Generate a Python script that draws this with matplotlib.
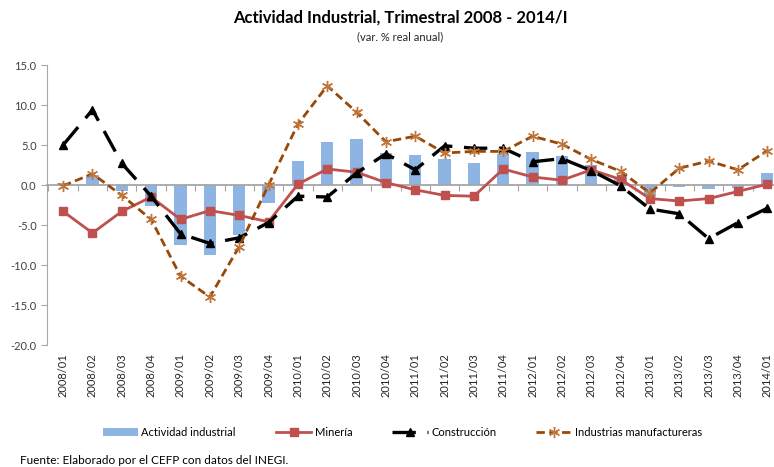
import matplotlib
matplotlib.use("Agg")
import matplotlib.pyplot as plt
import numpy as np

plt.rcParams['font.family'] = ['Lato', 'DejaVu Sans']

periodos = ['2008/01', '2008/02', '2008/03', '2008/04',
            '2009/01', '2009/02', '2009/03', '2009/04',
            '2010/01', '2010/02', '2010/03', '2010/04',
            '2011/01', '2011/02', '2011/03', '2011/04',
            '2012/01', '2012/02', '2012/03', '2012/04',
            '2013/01', '2013/02', '2013/03', '2013/04',
            '2014/01']

actividad = [0.2, 1.3, -0.7, -2.6, -7.5, -8.8, -6.3, -2.3,
             3.0, 5.4, 5.7, 4.0, 3.8, 3.3, 2.8, 3.9,
             4.1, 3.6, 2.5, 1.0, -1.2, -0.3, -0.5, -0.4, 1.5]

mineria = [-3.3, -6.0, -3.3, -1.5, -4.3, -3.2, -3.8, -4.6,
           0.1, 2.0, 1.6, 0.3, -0.6, -1.3, -1.4, 2.0,
           1.0, 0.6, 1.9, 0.7, -1.7, -2.0, -1.7, -0.8, 0.1]

construccion = [5.0, 9.4, 2.7, -1.4, -6.1, -7.3, -6.6, -4.7,
                -1.4, -1.5, 1.5, 3.9, 1.9, 4.9, 4.6, 4.6,
                2.9, 3.3, 1.8, -0.1, -3.0, -3.6, -6.7, -4.7, -2.9]

manufactureras = [-0.1, 1.4, -1.3, -4.3, -11.4, -14.0, -7.7, 0.0,
                  7.6, 12.4, 9.1, 5.4, 6.1, 4.0, 4.2, 4.2,
                  6.1, 5.1, 3.2, 1.7, -1.0, 2.1, 3.0, 1.9, 4.3]

x = np.arange(len(periodos))

fig = plt.figure(figsize=(7.74, 4.67), dpi=100)
ax = fig.add_axes([47 / 774, 1 - 345 / 467, 735 / 774, 280 / 467])

b = ax.bar(x, actividad, width=0.42, color='#8DB4E2', label='Actividad industrial', zorder=2)
l1, = ax.plot(x, mineria, color='#C0504D', lw=2.0, marker='s', ms=5.5, label='Minería', zorder=3)
l2, = ax.plot(x, construccion, color='black', lw=2.4, ls=(0, (7, 3.5)), marker='^', ms=6,
              label='Construcción', zorder=4)
l3, = ax.plot(x, manufactureras, color='#984807', lw=2.0, ls=(0, (3, 1.6)), marker=(6, 2, 0),
              ms=8, mec='#C0753A', mew=1.0, label='Industrias manufactureras', zorder=5)

ax.set_xlim(-0.55, len(periodos) - 0.5)
ax.set_ylim(-20, 15)
ax.set_yticks(np.arange(-20, 16, 5))
ax.set_yticklabels(['%.1f' % v for v in np.arange(-20, 16, 5)])
ax.tick_params(axis='y', labelsize=8, colors='#404040', length=4, direction='out',
               color='#A6A6A6')

for s in ['top', 'right']:
    ax.spines[s].set_visible(False)
ax.spines['left'].set_color('#A6A6A6')
ax.spines['bottom'].set_position(('data', 0))
ax.spines['bottom'].set_color('#A6A6A6')
ax.spines['bottom'].set_linewidth(1.3)
ax.set_xticks(x - 0.5)
ax.set_xticklabels([])
ax.tick_params(axis='x', length=4, direction='out', color='#A6A6A6')

sec = ax.secondary_xaxis('bottom')
sec.set_xticks(x)
sec.set_xticklabels(periodos, rotation=90, fontsize=8, color='#262626')
sec.tick_params(length=0, pad=6)
sec.spines['bottom'].set_visible(False)

fig.text(0.517, 1 - 18 / 467, 'Actividad Industrial, Trimestral 2008 - 2014/I',
         ha='center', va='center', fontsize=12, fontweight='bold')
fig.text(0.517, 1 - 37 / 467, '(var. % real anual)', ha='center', va='center',
         fontsize=8, color='#262626')

fig.legend([b, l1, l2, l3],
           ['Actividad industrial', 'Minería', 'Construcción', 'Industrias manufactureras'],
           loc='center', bbox_to_anchor=(0.52, 1 - 432 / 467), ncol=4, frameon=False,
           fontsize=8, handlelength=3.2, columnspacing=3.6, handletextpad=0.3)

fig.text(20 / 774, 1 - 461 / 467, 'Fuente: Elaborado por el CEFP con datos del INEGI.',
         ha='left', va='center', fontsize=8.5)

fig.savefig('out.png', dpi=100)
